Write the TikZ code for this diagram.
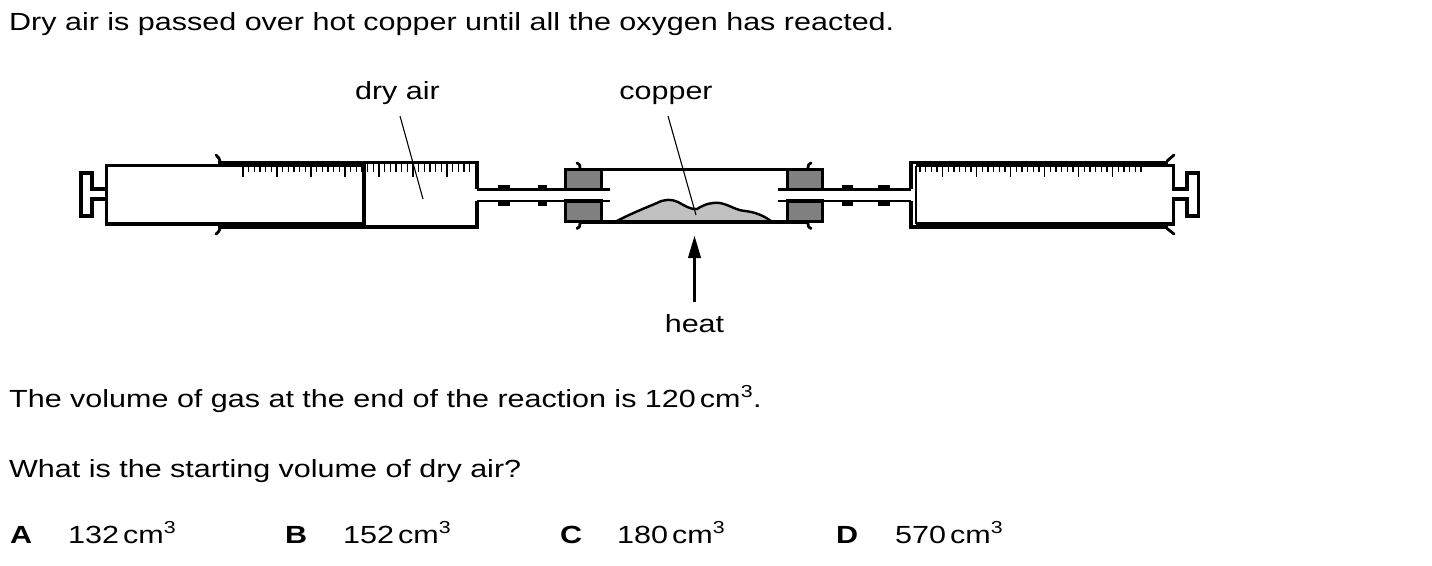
\documentclass[tikz,border=0pt]{standalone}
\usepackage{fontspec}
\setmainfont{Liberation Sans}[FakeStretch=1.23]
\usetikzlibrary{arrows.meta}
\definecolor{stopgray}{HTML}{808080}
\definecolor{coppergray}{HTML}{C0C0C0}
\begin{document}
\begin{tikzpicture}[x=1pt,y=-1pt,
  txt/.style={anchor=base west,inner sep=0pt,font=\fontsize{24.8}{29}\selectfont},
  lbl/.style={anchor=base,inner sep=0pt,font=\fontsize{24.8}{29}\selectfont},
  wall/.style={line width=3.8pt},
  pipe/.style={line width=2.8pt},
  flare/.style={line width=2.8pt,line cap=round},
  tickmark/.style={line width=1.2pt},
  pointer/.style={line width=1.1pt},
  stopper/.style={fill=stopgray,draw=black,line width=3.5pt},
  sleeve/.style={fill=black}]
\useasboundingbox (0,0) rectangle (1432,565);
\fill[white] (0,0) rectangle (1432,565);

% ---- texts
\node[txt] (intro) at (9,30) {Dry air is passed over hot copper until all the oxygen has reacted.};
\node[lbl] (dryair) at (397.5,99) {dry air};
\node[lbl] (copper) at (666,99) {copper};
\node[lbl] (heat) at (694.5,332) {heat};
\node[txt] (vol) at (9,407) {The volume of gas at the end of the reaction is 120\,cm\textsuperscript{3}.};
\node[txt] (quest) at (9,477) {What is the starting volume of dry air?};
\node[txt] (optA) at (10,543) {\bfseries A};
\node[txt] (valA) at (68,543) {132\,cm\textsuperscript{3}};
\node[txt] (optB) at (285,543) {\bfseries B};
\node[txt] (valB) at (343,543) {152\,cm\textsuperscript{3}};
\node[txt] (optC) at (560,543) {\bfseries C};
\node[txt] (valC) at (617,543) {180\,cm\textsuperscript{3}};
\node[txt] (optD) at (836,543) {\bfseries D};
\node[txt] (valD) at (895,543) {570\,cm\textsuperscript{3}};

% ---- left syringe
\draw[wall] (218,162.5) -- (477,162.5) -- (477,189);
\draw[wall] (218,227) -- (477,227) -- (477,201);
\draw[flare] (220,161) .. controls (219,158) .. (216,155);
\draw[flare] (220,228.5) .. controls (219,231.5) .. (216,234);
\draw[wall] (106.5,189) -- (92,189) -- (92,173.3) -- (81,173.3) -- (81,215.7) -- (92,215.7) -- (92,199) -- (106.5,199);
\draw[wall] (106.5,165.5) rectangle (364,224);
\foreach \i in {0,...,40}{
  \pgfmathsetmacro\xx{243+5.667*\i}
  \pgfmathtruncatemacro\m{mod(\i,6)}
  \ifnum\m=0 \def\len{13}\else\def\len{8}\fi
  \draw[tickmark] (\xx,164) -- ++(0,\len);
}

% ---- connecting tubes
\draw[pipe] (477,189.5) -- (610,189.5);
\draw[pipe] (477,201) -- (610,201);
\draw[pipe] (778,189.5) -- (911,189.5);
\draw[pipe] (778,201) -- (911,201);
\fill[sleeve] (498,185) rectangle (510,191);
\fill[sleeve] (538,185) rectangle (547,191);
\fill[sleeve] (498,199.5) rectangle (510,205.5);
\fill[sleeve] (538,199.5) rectangle (547,205.5);
\fill[sleeve] (842,185) rectangle (853,191);
\fill[sleeve] (878,185) rectangle (890,191);
\fill[sleeve] (842,199.5) rectangle (853,205.5);
\fill[sleeve] (878,199.5) rectangle (890,205.5);

% ---- combustion tube with copper
\filldraw[fill=coppergray,line width=2.4pt] (615,222) .. controls (630,214) and (645,208) .. (657,203)
  .. controls (664,199) and (672,199) .. (678,202)
  .. controls (685,206) and (692,210) .. (697,209)
  .. controls (705,204) and (712,202) .. (720,203)
  .. controls (730,205) and (735,210) .. (745,211)
  .. controls (755,212) and (765,216) .. (772,222) -- cycle;
\draw[wall] (580,169.5) -- (808,169.5);
\draw[wall] (580,222) -- (808,222);
\draw[flare] (580,168) .. controls (580,165) .. (577,163);
\draw[flare] (580,223.5) .. controls (580,226.5) .. (577,228.5);
\draw[flare] (808,168) .. controls (808,165) .. (811,163);
\draw[flare] (808,223.5) .. controls (808,226.5) .. (811,228.5);
\filldraw[stopper] (565.5,169.5) rectangle (601.5,189.5);
\filldraw[stopper] (565.5,201) rectangle (601.5,221.5);
\filldraw[stopper] (787.5,169.5) rectangle (822.5,189.5);
\filldraw[stopper] (787.5,201) rectangle (822.5,221.5);

% ---- right syringe
\draw[wall] (1168,162.5) -- (911,162.5) -- (911,189);
\draw[wall] (1168,227) -- (911,227) -- (911,201);
\draw[flare] (1167,161) .. controls (1170,158) .. (1174,155);
\draw[flare] (1167,228.5) .. controls (1170,231.5) .. (1174,234);
\draw[wall] (916,165.5) -- (1173.5,165.5) -- (1173.5,189) -- (1187,189) -- (1187,173.3) -- (1198.5,173.3)
  -- (1198.5,215.7) -- (1187,215.7) -- (1187,199) -- (1173.5,199) -- (1173.5,224) -- (916,224);
\draw[line width=2.2pt] (916,165.5) -- (916,224);
\foreach \i in {0,...,39}{
  \pgfmathsetmacro\xx{920+5.667*\i}
  \pgfmathtruncatemacro\m{mod(\i+2,6)}
  \ifnum\m=0 \def\len{13}\else\def\len{8}\fi
  \draw[tickmark] (\xx,164) -- ++(0,\len);
}

% ---- pointers and heat arrow
\coordinate (dryairstart) at (400,116);
\coordinate (dryairend) at (423,199);
\coordinate (copperstart) at (668,116);
\coordinate (copperend) at (696,215);
\coordinate (heattip) at (694.5,235);
\draw[pointer] (dryairstart) -- (dryairend);
\draw[pointer] (copperstart) -- (copperend);
\draw[line width=3.8pt,-{Triangle[length=23pt,width=12pt]}] ([yshift=12pt]heat.north) -- (heattip);
\end{tikzpicture}
\end{document}
